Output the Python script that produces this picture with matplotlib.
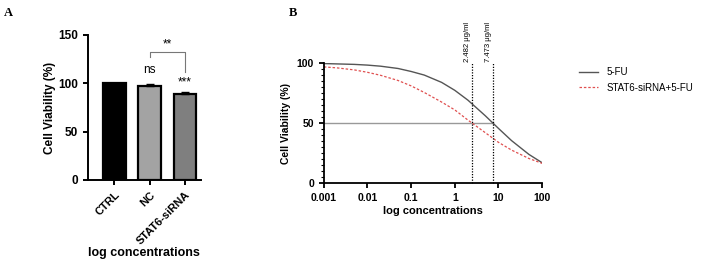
import matplotlib.pyplot as plt

plt.rcParams['font.family'] = ['Liberation Sans', 'DejaVu Sans']

# panel A: bar data
groups = ["CTRL", "NC", "STAT6-siRNA"]
viability = [100.0, 97.5, 88.5]
errors = [0.5, 1.5, 3.0]
bar_colors = ["#000000", "#a3a3a3", "#7f7f7f"]

# panel B: dose-response curves
conc = [0.001, 0.002, 0.005, 0.01, 0.02, 0.05, 0.1, 0.2, 0.5,
        1, 2, 5, 10, 20, 50, 100]
fu = [99.6, 99.3, 98.9, 98.3, 97.4, 95.5, 93.0, 90.0, 83.9,
      77.3, 69.1, 56.1, 45.6, 35.4, 23.9, 17.0]
combo = [96.8, 96.0, 94.3, 92.3, 89.8, 85.5, 81.0, 75.5, 67.5,
         61.0, 52.5, 42.0, 34.0, 27.5, 20.5, 16.5]
ic50 = [2.482, 7.473]
ic50_labels = ["2.482 μg/ml", "7.473 μg/ml"]
xticks_b = [0.001, 0.01, 0.1, 1, 10, 100]
xticklabels_b = ["0.001", "0.01", "0.1", "1", "10", "100"]


def style_axes(ax, lw=1.4, size=8.5):
    for s in ["top", "right"]:
        ax.spines[s].set_visible(False)
    for s in ["left", "bottom"]:
        ax.spines[s].set_linewidth(lw)
    ax.tick_params(width=lw, length=3.5, labelsize=size)
    for lab in ax.get_xticklabels() + ax.get_yticklabels():
        lab.set_fontweight("bold")


fig = plt.figure(figsize=(7.04, 2.65), dpi=100)

# ---- panel A ----
axA = fig.add_axes([0.125, 0.321, 0.16, 0.547])
xs = list(range(len(groups)))
axA.bar(xs, viability, width=0.64, color=bar_colors,
        edgecolor="black", linewidth=1.6, zorder=2)
axA.errorbar(xs, viability, yerr=[[0, 0, 0], errors], fmt="none",
             ecolor="black", elinewidth=1.0, capsize=3, capthick=1.0, zorder=3)
axA.set_ylim(0, 150)
axA.set_xlim(-0.75, 2.45)
axA.set_yticks([0, 50, 100, 150])
axA.set_xticks(xs)
axA.set_xticklabels(groups, rotation=45, ha="right", rotation_mode="anchor")
style_axes(axA)
axA.tick_params(axis="x", labelsize=8)
axA.set_ylabel("Cell Viability (%)", fontsize=8.5, fontweight="bold", labelpad=2)
axA.set_xlabel("log concentrations", fontsize=9, fontweight="bold")
axA.xaxis.set_label_coords(0.5, -0.46)
axA.text(1, 108, "ns", ha="center", va="bottom", fontsize=8.5)
axA.text(2, 95, "***", ha="center", va="bottom", fontsize=8.5)
axA.plot([1, 1, 2, 2], [127, 132, 132, 112], color="#777777", lw=0.8,
         clip_on=False)
axA.text(1.5, 134, "**", ha="center", va="bottom", fontsize=8.5)

# ---- panel B ----
axB = fig.add_axes([0.460, 0.309, 0.310, 0.453])
axB.plot(conc, fu, color="#555555", lw=1.0, label="5-FU")
axB.plot(conc, combo, color="#e05050", lw=0.9, ls=(0, (2, 1.5)),
         label="STAT6-siRNA+5-FU")
axB.set_xscale("log")
axB.set_xlim(0.001, 100)
axB.set_ylim(0, 100)
axB.plot([0.001, ic50[1]], [50, 50], color="#999999", lw=1.0, zorder=0)
for xv, lab in zip(ic50, ic50_labels):
    axB.plot([xv, xv], [0, 100], color="black", lw=0.9, ls=(0, (1, 1.2)),
             clip_on=False)
    axB.text(xv * 0.93, 101, lab, rotation=90, ha="right", va="bottom",
             fontsize=5.5)
axB.set_xticks(xticks_b)
axB.set_xticklabels(xticklabels_b)
axB.minorticks_off()
axB.set_yticks([0, 50, 100])
axB.set_yticks(range(0, 101, 5), minor=True)
style_axes(axB, lw=1.3, size=7.5)
axB.tick_params(axis="y", which="minor", length=2, width=0.8)
axB.set_ylabel("Cell Viability (%)", fontsize=7.5, fontweight="bold", labelpad=4)
axB.set_xlabel("log concentrations", fontsize=8, fontweight="bold", labelpad=2)
fig.legend(loc="upper left", bbox_to_anchor=(0.81, 0.78), frameon=False,
           fontsize=7, handlelength=2.0, labelspacing=0.6)

fig.text(0.005, 0.94, "A", fontsize=9, fontweight="bold", family="Liberation Serif")
fig.text(0.41, 0.94, "B", fontsize=9, fontweight="bold", family="Liberation Serif")

fig.savefig("out.png", dpi=100)
